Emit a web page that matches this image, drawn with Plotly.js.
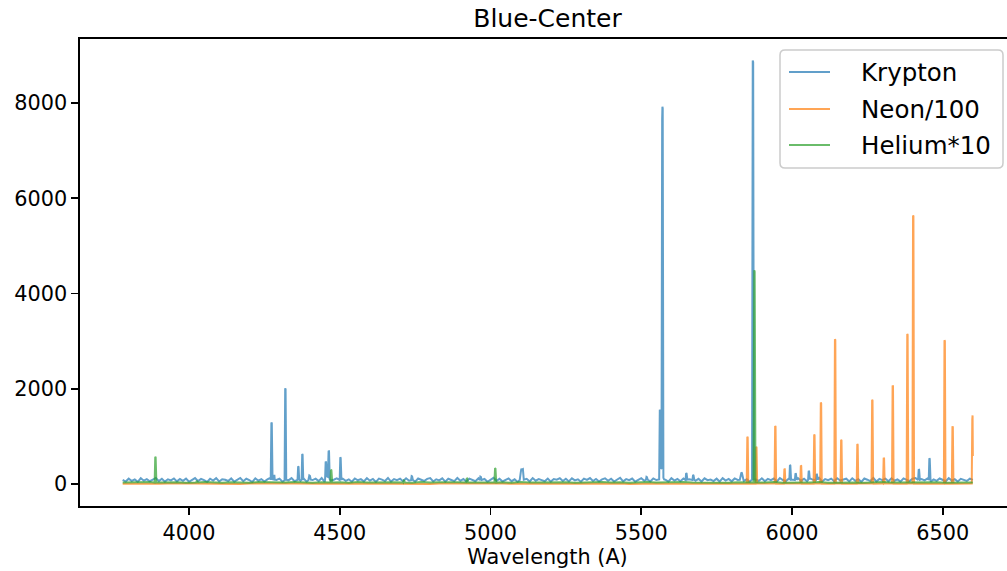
<!DOCTYPE html>
<html><head><meta charset="utf-8">
<script src="https://cdn.plot.ly/plotly-3.0.1.min.js"></script>
<style>html,body{margin:0;padding:0;overflow:hidden;background:#fff;}#chart{width:1015px;height:571px;}</style>
</head><body><div id="chart"></div>
<script>
// ---------- DATA ----------
const seriesNames = ["Krypton", "Neon/100", "Helium*10"];
const xTickValues = [4000, 4500, 5000, 5500, 6000, 6500];
const yTickValues = [0, 2000, 4000, 6000, 8000];

// Krypton: continuum samples (start wavelength, step, values) and emission-line samples
const kryptonStart = 3780, kryptonStep = 10;
const kryptonBase = [
 88,52,112,64,97,45,121,70,103,58,93,128,61,109,49,98,75,117,55,104,
 68,114,47,95,124,60,106,82,43,111,72,122,54,101,90,63,116,50,96,126,
 59,110,80,42,119,69,103,53,97,130,62,86,113,48,105,76,123,57,94,67,
 118,51,99,83,112,61,125,46,107,72,89,120,55,110,66,98,48,116,78,102,
 56,122,70,106,44,113,91,62,127,52,103,81,111,58,121,68,95,50,115,87,
 63,108,124,53,99,76,118,49,110,85,61,126,67,104,51,114,92,57,119,73,
 106,47,96,129,65,111,54,88,117,60,98,44,121,77,108,52,124,69,102,82,
 58,115,50,104,90,122,64,110,55,118,75,99,47,113,86,125,62,107,53,97,
 119,67,111,51,95,131,57,103,79,114,49,93,123,66,108,54,116,83,61,110,
 89,50,121,71,105,58,114,45,97,127,68,109,52,118,80,94,60,112,51,123,
 72,107,56,117,86,129,62,99,48,112,93,65,120,57,106,79,115,53,124,84,
 61,114,96,49,122,70,109,55,118,88,63,128,51,104,82,113,58,121,74,97,
 111,54,119,66,101,46,116,90,62,125,52,107,80,113,57,120,69,98,50,117,
 86,60,112,124,55,105,77,118,51,96,67,115,84,58,122,71,103,53,109,81,
 64,113,88
];
const kryptonPeaks = [
 [[4271,85],[4273.2,1290],[4274.6,1275],[4277,100],[4281.5,95],[4283,190],[4284.5,90]],
 [[4317,80],[4319,2010],[4320.3,1990],[4322.5,90]],
 [[4360,85],[4362,370],[4363.3,360],[4365.5,95]],
 [[4373.5,90],[4375.5,630],[4376.8,615],[4379,85]],
 [[4396,80],[4399,180],[4401,170],[4404,90]],
 [[4451.3,90],[4453.3,470],[4454.6,455],[4457.5,160],[4460.5,150],[4463,700],[4464.4,690],[4466.8,95]],
 [[4499.8,85],[4501.8,560],[4503.1,545],[4505.5,90]],
 [[4736.5,80],[4738.5,165],[4740,160],[4742.5,85]],
 [[4964.5,80],[4966.5,155],[4968,150],[4970.5,85]],
 [[5097,85],[5100.5,250],[5102.5,320],[5105,300],[5107.5,310],[5110.5,90]],
 [[5515.5,85],[5517.5,150],[5519,145],[5521.5,90]],
 [[5559.5,95],[5561.6,1560],[5562.9,1540],[5565,320],[5567.2,330],[5569.4,7650],[5570.3,7920],[5571.3,7890],[5573.5,130],[5576,95]],
 [[5647,85],[5649,230],[5650.4,220],[5653,90]],
 [[5670,85],[5672,190],[5673.4,180],[5676,90]],
 [[5827,90],[5830,200],[5832.3,240],[5834,230],[5837,95]],
 [[5867.5,95],[5869.9,8890],[5871.3,8860],[5873.7,100]],
 [[5991.3,85],[5993.3,400],[5994.6,390],[5997,90]],
 [[6009.7,85],[6011.7,225],[6013,215],[6015.5,90]],
 [[6053.5,85],[6055.5,275],[6056.8,265],[6059.3,90]],
 [[6079.5,85],[6081.5,210],[6082.8,200],[6085.3,90]],
 [[6418.4,85],[6420.4,310],[6421.7,300],[6424.2,90]],
 [[6453.7,85],[6455.7,540],[6457,530],[6459.5,90]]
];

// Neon / 100
const neonStart = 3780, neonStep = 30;
const neonBase = [
 6,10,4,12,7,9,3,11,8,5,13,6,9,2,10,7,12,4,8,11,
 5,9,6,13,3,10,8,7,12,4,9,11,6,8,2,10,7,13,5,9,
 11,4,8,6,12,3,10,7,9,5,13,8,4,11,6,10,2,9,7,12,
 5,8,11,3,10,6,9,13,4,7,12,8,5,10,3,11,6,9,7,12,
 4,8,10,6,13,5,9,7,11,3,8,10,6,12,9
];
const neonPeaks = [
 [[5849.9,8],[5851.9,990],[5853.2,975],[5855.2,7]],
 [[5879.3,7],[5881.3,780],[5882.6,765],[5884.6,8]],
 [[5942.2,8],[5944.2,1220],[5945.5,1205],[5947.5,7]],
 [[5972.9,7],[5974.9,320],[5976.2,310],[5978.2,8]],
 [[6027.4,8],[6029.4,390],[6030.7,380],[6032.7,7]],
 [[6071.7,7],[6073.7,1040],[6075,1025],[6077,8]],
 [[6093.6,8],[6095.6,1710],[6096.9,1695],[6098.9,7]],
 [[6140.5,7],[6142.5,3040],[6143.8,3025],[6145.8,8]],
 [[6161,8],[6163,930],[6164.3,915],[6166.3,7]],
 [[6214.7,7],[6216.7,840],[6218,825],[6220,8]],
 [[6263.9,8],[6265.9,1770],[6267.2,1755],[6269.2,7]],
 [[6302.2,7],[6304.2,550],[6305.5,540],[6307.5,8]],
 [[6331.8,8],[6333.8,2070],[6335.1,2055],[6337.1,7]],
 [[6380.4,7],[6382.4,3150],[6383.7,3135],[6385.7,8]],
 [[6399.6,8],[6401.6,5640],[6402.9,5625],[6404.9,7]],
 [[6503.9,7],[6505.9,3020],[6507.2,3005],[6509.2,8]],
 [[6530.3,8],[6532.3,1210],[6533.6,1195],[6535.6,7]],
 [[6596.3,8],[6598.1,1360],[6599.1,1440],[6600,590]]
];

// Helium * 10
const heliumStart = 3780, heliumStep = 30;
const heliumBase = [
 30,36,27,41,33,29,38,25,35,42,31,28,39,34,26,40,32,37,29,44,
 33,27,38,31,36,24,41,30,35,28,39,33,26,43,31,37,29,35,40,27,
 34,30,38,25,42,32,36,28,33,39,26,35,31,41,29,37,24,34,40,30,
 36,27,43,32,28,38,33,25,39,31,35,29,42,26,37,33,30,40,28,34,
 38,31,27,36,41,29,33,25,39,32,35,28,37,30,34
];
const heliumPeaks = [
 [[3886,30],[3888,570],[3889.3,560],[3891.8,32]],
 [[4023.5,30],[4025.7,65],[4027,60],[4029.5,32]],
 [[4469,31],[4471,300],[4472.3,290],[4475,33]],
 [[4710.5,30],[4712.6,75],[4713.9,70],[4716.5,31]],
 [[4919.3,30],[4921.4,125],[4922.7,118],[4925.3,32]],
 [[5013,31],[5015.2,335],[5016.5,325],[5019,30]],
 [[5872.5,32],[5874.9,4490],[5876.3,4460],[5879,34]]
];

// ---------- BUILD ----------
function buildSpectrum(start, step, base, peaks) {
  const pts = [];
  base.forEach((v, i) => {
    const w = start + i * step;
    const inside = peaks.some(g => w >= g[0][0] && w <= g[g.length - 1][0]);
    if (!inside) pts.push([w, v]);
  });
  peaks.forEach(g => g.forEach(p => pts.push(p)));
  pts.sort((a, b) => a[0] - b[0]);
  return { x: pts.map(p => p[0]), y: pts.map(p => p[1]) };
}

const kr = buildSpectrum(kryptonStart, kryptonStep, kryptonBase, kryptonPeaks);
const ne = buildSpectrum(neonStart, neonStep, neonBase, neonPeaks);
const he = buildSpectrum(heliumStart, heliumStep, heliumBase, heliumPeaks);

const colors = ["#1f77b4", "#ff7f0e", "#2ca02c"];
const FONT = "DejaVu Sans, Liberation Sans, sans-serif";

const traces = [kr, ne, he].map((s, i) => ({
  type: "scatter", mode: "lines", x: s.x, y: s.y, name: seriesNames[i],
  line: { color: colors[i], width: 2 }, opacity: 0.7, hoverinfo: "skip", showlegend: false
}));

// ---------- LAYOUT ----------
const M = { l: 80, r: 0, t: 39, b: 65 }, W = 1015, H = 571;
const PW = W - M.l - M.r, PH = H - M.t - M.b;
const px2x = px => (px - M.l) / PW;
const py2y = py => (H - M.b - py) / PH;

// legend box (matplotlib-like, rounded corners)
const box = { x0: 780, y0: 50, x1: 1003, y1: 168, r: 5 };
function roundedBoxPath(b) {
  const X = px2x, Y = py2y;
  return `M${X(b.x0 + b.r)},${Y(b.y0)} L${X(b.x1 - b.r)},${Y(b.y0)} Q${X(b.x1)},${Y(b.y0)} ${X(b.x1)},${Y(b.y0 + b.r)} ` +
         `L${X(b.x1)},${Y(b.y1 - b.r)} Q${X(b.x1)},${Y(b.y1)} ${X(b.x1 - b.r)},${Y(b.y1)} ` +
         `L${X(b.x0 + b.r)},${Y(b.y1)} Q${X(b.x0)},${Y(b.y1)} ${X(b.x0)},${Y(b.y1 - b.r)} ` +
         `L${X(b.x0)},${Y(b.y0 + b.r)} Q${X(b.x0)},${Y(b.y0)} ${X(b.x0 + b.r)},${Y(b.y0)} Z`;
}
const legendRowY = [72, 109, 145];
const shapes = [
  { type: "path", xref: "paper", yref: "paper", path: roundedBoxPath(box),
    fillcolor: "rgba(255,255,255,0.8)", line: { color: "#cccccc", width: 1.5 }, layer: "above" }
];
const annotations = [];
seriesNames.forEach((n, i) => {
  shapes.push({ type: "line", xref: "paper", yref: "paper",
    x0: px2x(789), x1: px2x(830), y0: py2y(legendRowY[i]), y1: py2y(legendRowY[i]),
    line: { color: colors[i], width: 2 }, opacity: 0.7, layer: "above" });
  annotations.push({ xref: "paper", yref: "paper", x: px2x(859), y: py2y(legendRowY[i]),
    xanchor: "left", yanchor: "middle", text: n, showarrow: false,
    font: { family: FONT, size: 24.5, color: "black" } });
});

const axisCommon = {
  showline: true, linecolor: "black", linewidth: 1.6, mirror: true,
  ticks: "outside", ticklen: 7, tickwidth: 1.6, tickcolor: "black",
  showgrid: false, zeroline: false,
  tickfont: { family: FONT, size: 20.8, color: "black" }
};

const layout = {
  width: W, height: H, margin: M,
  paper_bgcolor: "white", plot_bgcolor: "white",
  font: { family: FONT, color: "black" },
  title: { text: "Blue-Center", font: { family: FONT, size: 25, color: "black" },
           x: 0.5, xref: "paper", xanchor: "center", y: 1 - 18 / 571, yref: "container", yanchor: "middle" },
  xaxis: Object.assign({}, axisCommon, {
    range: [3638.4, 6739.8], tickvals: xTickValues, ticktext: xTickValues.map(String),
    title: { text: "Wavelength (A)", font: { family: FONT, size: 20.8, color: "black" }, standoff: 6 }
  }),
  yaxis: Object.assign({}, axisCommon, {
    range: [-462, 9344], tickvals: yTickValues, ticktext: yTickValues.map(String)
  }),
  showlegend: false,
  shapes: shapes,
  annotations: annotations
};

Plotly.newPlot("chart", traces, layout, { staticPlot: true, displayModeBar: false });
</script></body></html>
